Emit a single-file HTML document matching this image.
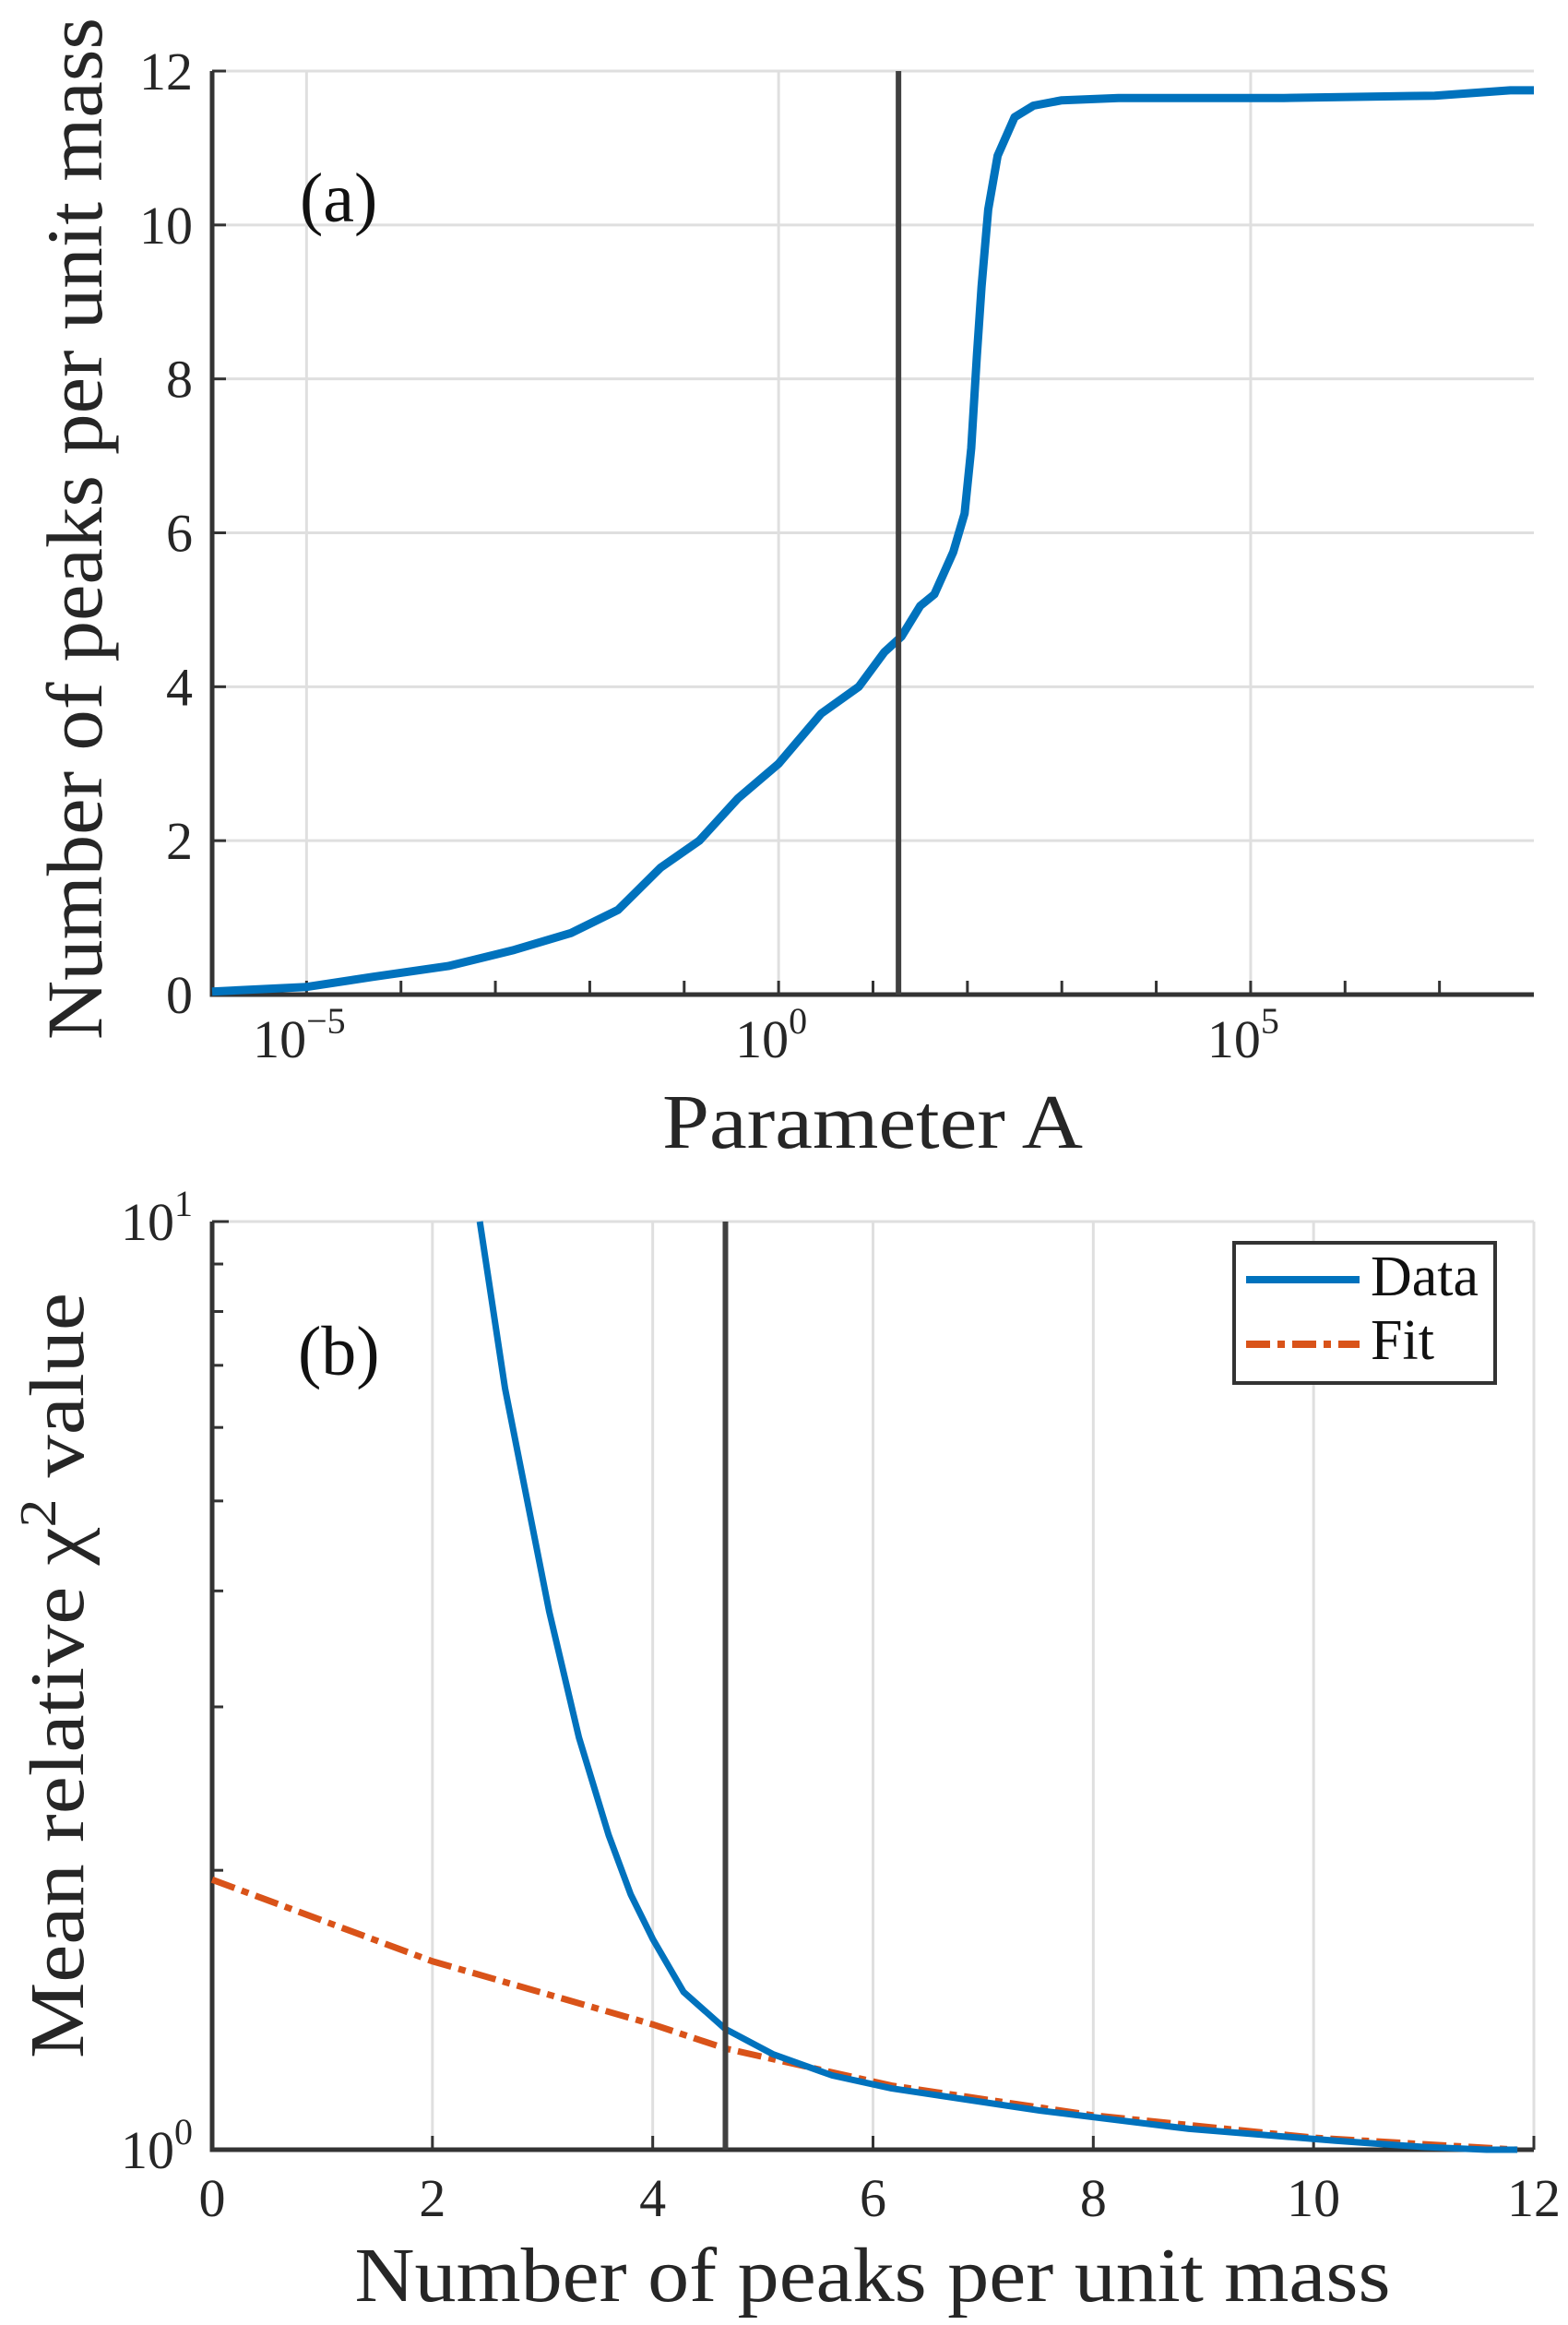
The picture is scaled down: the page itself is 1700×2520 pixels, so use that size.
<!DOCTYPE html>
<html><head><meta charset="utf-8"><style>
html,body{margin:0;padding:0;background:#fff;}
svg{display:block;font-family:"Liberation Serif",serif;}
</style></head><body>
<svg id="fig" width="1700" height="2520" viewBox="0 0 1700 2520" xmlns="http://www.w3.org/2000/svg">
<g id="panelA"></g>
<g id="panelB"></g>
</svg>
<script>
// Panel (a) data: log10(Parameter A) and number of peaks
const aLogA = [-6,-5,-4.3,-3.5,-2.8,-2.2,-1.7,-1.25,-0.84,-0.43,0,0.45,0.85,1.12,1.3,1.5,1.65,1.85,1.97,2.04,2.1,2.15,2.22,2.32,2.5,2.7,3.0,3.6,5.35,6.95,7.75,8];
const aPeaks = [0.04,0.1,0.23,0.37,0.58,0.8,1.1,1.65,2.0,2.55,3.0,3.65,4.0,4.45,4.65,5.05,5.2,5.75,6.25,7.1,8.3,9.2,10.2,10.9,11.4,11.55,11.62,11.65,11.65,11.68,11.75,11.75];
const aYTicks = [0,2,4,6,8,10,12];
const aXTickExp = [-5,0,5];
const aMarkerLogA = 1.27;
// Panel (b) data
const bDataX = [2.43,2.66,2.86,3.06,3.33,3.6,3.8,4.0,4.28,4.66,5.09,5.63,6.17,7.52,8.87,10.2,11.0,11.57,11.85];
const bDataLogY = [1.0,0.82,0.70,0.58,0.444,0.339,0.275,0.227,0.170,0.130,0.103,0.080,0.066,0.042,0.0225,0.0096,0.003,0.0,0.0];
const bFitX = [0,2,4,4.66,6.17,8,10,11.85];
const bFitLogY = [0.291,0.203,0.135,0.109,0.069,0.037,0.0129,0.0];
const bXTicks = [0,2,4,6,8,10,12];
const bMarkerX = 4.66;

const NS="http://www.w3.org/2000/svg";
function mk(parent,tag,attrs,text){const e=document.createElementNS(NS,tag);for(const k in attrs)e.setAttribute(k,attrs[k]);if(text!==undefined)e.textContent=text;parent.appendChild(e);return e;}
const TXT="#262626", AX="#333333", GRID="#dfdfdf", BLUE="#0072BD", ORANGE="#D95319";

// ---------- Panel A ----------
const topG=document.getElementById('panelA');
const A={l:230,r:1663,t:77,b:1078,xmin:-6,xmax:8,ymin:0,ymax:12};
const ax=v=>A.l+(v-A.xmin)/(A.xmax-A.xmin)*(A.r-A.l);
const ay=v=>A.b-(v-A.ymin)/(A.ymax-A.ymin)*(A.b-A.t);
for(const e of aXTickExp){const g=mk(topG,'line',{x1:ax(e),x2:ax(e),y1:A.t,y2:A.b,stroke:GRID,'stroke-width':3});

}
for(const v of aYTicks){const g=mk(topG,'line',{x1:A.l,x2:A.r,y1:ay(v),y2:ay(v),stroke:GRID,'stroke-width':3});

}
for(let e=A.xmin+1;e<A.xmax;e++){const t=mk(topG,'line',{x1:ax(e),x2:ax(e),y1:A.b,y2:A.b-15,stroke:AX,'stroke-width':3});

}
for(const v of aYTicks){const t=mk(topG,'line',{x1:A.l,x2:A.l+15,y1:ay(v),y2:ay(v),stroke:AX,'stroke-width':3});


const l=mk(topG,'text',{x:209,y:ay(v)+20,'text-anchor':'end','font-size':58,fill:TXT},String(v));

}
for(const e of aXTickExp){const l=mk(topG,'text',{x:ax(e)-8,y:1146,'text-anchor':'middle','font-size':58,fill:TXT});


mk(l,'tspan',{},'10');mk(l,'tspan',{dy:-26,'font-size':40},e<0?'\u2212'+(-e):String(e));}
const axl=mk(topG,'path',{d:`M${A.l},${A.t} V${A.b} H${A.r}`,fill:'none',stroke:AX,'stroke-width':5});


let d='';aLogA.forEach((v,i)=>{d+=(i?'L':'M')+ax(v).toFixed(1)+','+ay(aPeaks[i]).toFixed(1);});
const cA=mk(topG,'path',{d:d,fill:'none',stroke:BLUE,'stroke-width':9,'stroke-linejoin':'round'});


const vA=mk(topG,'line',{x1:ax(aMarkerLogA),x2:ax(aMarkerLogA),y1:A.t,y2:A.b,stroke:'#404040','stroke-width':6});


const la=mk(topG,'text',{x:325,y:240,'font-size':76,fill:'#111'},'(a)');


const xa=mk(topG,'text',{x:946,y:1244,'text-anchor':'middle','font-size':84,fill:TXT,textLength:456,lengthAdjust:'spacingAndGlyphs'},'Parameter A');


const ya=mk(topG,'text',{x:0,y:0,transform:'translate(110,573) rotate(-90)','text-anchor':'middle','font-size':86,fill:TXT,textLength:1108,lengthAdjust:'spacingAndGlyphs'},'Number of peaks per unit mass');



// ---------- Panel B ----------
const botG=document.getElementById('panelB');
const B={l:230,r:1663,t:1324,b:2330,xmin:0,xmax:12};
const bx=v=>B.l+(v-B.xmin)/(B.xmax-B.xmin)*(B.r-B.l);
const by=lv=>B.b-lv*(B.b-B.t);
for(const v of bXTicks){const g=mk(botG,'line',{x1:bx(v),x2:bx(v),y1:B.t,y2:B.b,stroke:GRID,'stroke-width':3});

}
const gt=mk(botG,'line',{x1:B.l,x2:B.r,y1:B.t,y2:B.t,stroke:GRID,'stroke-width':3});


for(const v of bXTicks){const t=mk(botG,'line',{x1:bx(v),x2:bx(v),y1:B.b,y2:B.b-15,stroke:AX,'stroke-width':3});


const l=mk(botG,'text',{x:bx(v),y:2402,'text-anchor':'middle','font-size':58,fill:TXT},String(v));

}
for(let m=1;m<=10;m++){const lv=Math.log10(m);const len=(m===1||m===10)?18:12;
const t=mk(botG,'line',{x1:B.l,x2:B.l+len,y1:by(lv),y2:by(lv),stroke:AX,'stroke-width':3});

}
[[0,B.b],[1,B.t]].forEach(([e,y])=>{const l=mk(botG,'text',{x:209,y:y+20,'text-anchor':'end','font-size':58,fill:TXT});


mk(l,'tspan',{},'10');mk(l,'tspan',{dy:-26,'font-size':40},String(e));});
const axb=mk(botG,'path',{d:`M${B.l},${B.t} V${B.b} H${B.r}`,fill:'none',stroke:AX,'stroke-width':5});


let d2='';bDataX.forEach((v,i)=>{d2+=(i?'L':'M')+bx(v).toFixed(1)+','+by(bDataLogY[i]).toFixed(1);});
let d3='';bFitX.forEach((v,i)=>{d3+=(i?'L':'M')+bx(v).toFixed(1)+','+by(bFitLogY[i]).toFixed(1);});
const fitP=mk(botG,'path',{d:d3,fill:'none',stroke:ORANGE,'stroke-width':7,'stroke-dasharray':'26 8 8 8'});


const dataP=mk(botG,'path',{d:d2,fill:'none',stroke:BLUE,'stroke-width':7,'stroke-linejoin':'round'});


const vB=mk(botG,'line',{x1:bx(bMarkerX),x2:bx(bMarkerX),y1:B.t,y2:B.b,stroke:'#404040','stroke-width':6});


const lb=mk(botG,'text',{x:323,y:1490,'font-size':76,fill:'#111'},'(b)');


const leg=mk(botG,'g',{});


mk(leg,'rect',{x:1338,y:1347,width:283,height:152,fill:'#fff',stroke:AX,'stroke-width':4});
const le1=mk(leg,'line',{x1:1351,x2:1474,y1:1387,y2:1387,stroke:BLUE,'stroke-width':8});


mk(leg,'text',{x:1486,y:1404,'font-size':62,fill:'#111'},'Data');
const le2=mk(leg,'line',{x1:1351,x2:1474,y1:1457,y2:1457,stroke:ORANGE,'stroke-width':8,'stroke-dasharray':'26 8 8 8'});


mk(leg,'text',{x:1486,y:1473,'font-size':62,fill:'#111'},'Fit');
const xb=mk(botG,'text',{x:946,y:2494,'text-anchor':'middle','font-size':84,fill:TXT,textLength:1123,lengthAdjust:'spacingAndGlyphs'},'Number of peaks per unit mass');


const yb=mk(botG,'text',{x:0,y:0,transform:'translate(90,1816) rotate(-90)','text-anchor':'middle','font-size':84,fill:TXT,textLength:830,lengthAdjust:'spacingAndGlyphs'});


mk(yb,'tspan',{},'Mean relative \u03C7');mk(yb,'tspan',{dy:-30,'font-size':56},'2');mk(yb,'tspan',{dy:30},' value');
</script>
</body></html>
